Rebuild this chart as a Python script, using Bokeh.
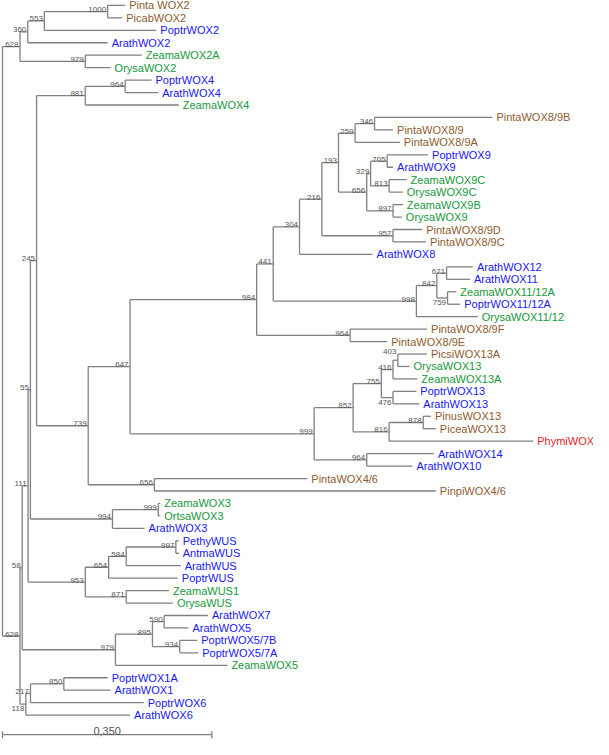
from bokeh.plotting import figure
from bokeh.models import Range1d
from bokeh.core.properties import value
from bokeh.embed import file_html
from bokeh.resources import INLINE

# ---------------- data ----------------
# leaves, top to bottom
leaf_names = ["Pinta WOX2", "PicabWOX2", "PoptrWOX2", "ArathWOX2", "ZeamaWOX2A", "OrysaWOX2",
              "PoptrWOX4", "ArathWOX4", "ZeamaWOX4",
              "PintaWOX8/9B", "PintaWOX8/9", "PintaWOX8/9A", "PoptrWOX9", "ArathWOX9",
              "ZeamaWOX9C", "OrysaWOX9C", "ZeamaWOX9B", "OrysaWOX9", "PintaWOX8/9D", "PintaWOX8/9C",
              "ArathWOX8", "ArathWOX12", "ArathWOX11", "ZeamaWOX11/12A", "PoptrWOX11/12A",
              "OrysaWOX11/12", "PintaWOX8/9F", "PintaWOX8/9E", "PicsiWOX13A", "OrysaWOX13",
              "ZeamaWOX13A", "PoptrWOX13", "ArathWOX13", "PinusWOX13", "PiceaWOX13", "PhymiWOX",
              "ArathWOX14", "ArathWOX10", "PintaWOX4/6", "PinpiWOX4/6",
              "ZeamaWOX3", "OrtsaWOX3", "ArathWOX3", "PethyWUS", "AntmaWUS", "ArathWUS", "PoptrWUS",
              "ZeamaWUS1", "OrysaWUS", "ArathWOX7", "ArathWOX5", "PoptrWOX5/7B", "PoptrWOX5/7A",
              "ZeamaWOX5", "PoptrWOX1A", "ArathWOX1", "PoptrWOX6", "ArathWOX6"]
leaf_parent = ["n1000", "n1000", "n553", "n360", "n979a", "n979a", "n964a", "n964a", "n881",
               "n346", "n346", "n259", "n705", "n705", "n813", "n813", "n897", "n897", "n957", "n957",
               "n304", "n671", "n671", "n759", "n759", "n998", "n964b", "n964b", "n403", "n403",
               "n416", "n476", "n476", "n878", "n878", "n816", "n964c", "n964c", "n656a", "n656a",
               "n999a", "n999a", "n994", "n997", "n997", "n584", "n654", "n871", "n871", "n590",
               "n590", "n934", "n934", "n979b", "n850", "n850", "n217", "n118"]
leaf_length = [0.0293, 0.0244, 0.1872, 0.1335, 0.0944, 0.0423, 0.0440, 0.0553, 0.1563, 0.1970,
               0.0309, 0.0749, 0.0684, 0.0098, 0.0293, 0.0228, 0.0163, 0.0147, 0.0488, 0.0553,
               0.1221, 0.0440, 0.0391, 0.0147, 0.0212, 0.1026, 0.1286, 0.0619, 0.0488, 0.0195,
               0.0407, 0.0391, 0.0440, 0.0130, 0.0212, 0.2409, 0.1123, 0.0765, 0.2556, 0.4705,
               0.0033, 0.0033, 0.0537, 0.0049, 0.0049, 0.0912, 0.1156, 0.0716, 0.0781, 0.0733,
               0.0407, 0.0293, 0.0309, 0.1872, 0.0733, 0.0781, 0.1893, 0.1742]
leaf_group = ["gymno", "gymno", "dicot", "dicot", "monocot", "monocot",
              "dicot", "dicot", "monocot",
              "gymno", "gymno", "gymno", "dicot", "dicot",
              "monocot", "monocot", "monocot", "monocot", "gymno", "gymno",
              "dicot", "dicot", "dicot", "monocot", "dicot",
              "monocot", "gymno", "gymno", "gymno", "monocot",
              "monocot", "dicot", "dicot", "gymno", "gymno", "other",
              "dicot", "dicot", "gymno", "gymno",
              "monocot", "monocot", "dicot", "dicot", "dicot", "dicot", "dicot",
              "monocot", "monocot", "dicot", "dicot", "dicot", "dicot",
              "monocot", "dicot", "dicot", "dicot", "dicot"]

# internal nodes
node_ids = ["root", "n628a", "n360", "n553", "n1000", "n979a", "n628b", "n58", "n111", "n55",
            "n245", "n881", "n964a", "n739", "n647", "n984", "n441", "n304", "n216", "n193",
            "n259", "n346", "n656b", "n329", "n705", "n813", "n897", "n957", "n998", "n842",
            "n671", "n759", "n964b", "n999b", "n852", "n755", "n416", "n403", "n476", "n816",
            "n878", "n964c", "n656a", "n994", "n999a", "n953", "n654", "n584", "n997", "n871",
            "n979b", "n895", "n590", "n934", "n118", "n217", "n850"]
node_parent = [None, "root", "n628a", "n360", "n553", "n628a", "root", "n628b", "n58", "n111",
               "n55", "n245", "n881", "n245", "n739", "n647", "n984", "n441", "n304", "n216",
               "n193", "n259", "n193", "n656b", "n329", "n329", "n656b", "n216", "n441", "n998",
               "n842", "n842", "n984", "n647", "n999b", "n852", "n755", "n416", "n755", "n852",
               "n816", "n999b", "n739", "n55", "n994", "n111", "n953", "n654", "n584", "n953",
               "n58", "n979b", "n895", "n895", "n628b", "n118", "n217"]
node_length = [0.0, 0.0293, 0.0130, 0.0277, 0.1058, 0.1091, 0.0293, 0.0037, 0.0098, 0.0039,
               0.0103, 0.0814, 0.0667, 0.0863, 0.0700, 0.2116, 0.0277, 0.0440, 0.0374, 0.0277,
               0.0277, 0.0326, 0.0472, 0.0065, 0.0277, 0.0309, 0.0440, 0.1188, 0.2393, 0.0342,
               0.0163, 0.0179, 0.1563, 0.3077, 0.0651, 0.0472, 0.0195, 0.0081, 0.0195, 0.0602,
               0.0570, 0.0879, 0.1107, 0.1372, 0.0765, 0.0956, 0.0391, 0.0293, 0.0830, 0.0684,
               0.1558, 0.0619, 0.0195, 0.0456, 0.0098, 0.0077, 0.0558]
node_support = ["", "628", "360", "553", "1000", "979", "628", "58", "111", "55",
                "245", "881", "964", "739", "647", "984", "441", "304", "216", "193",
                "259", "346", "656", "329", "705", "813", "897", "957", "998", "842",
                "671", "759", "964", "999", "852", "755", "416", "403", "476", "816",
                "878", "964", "656", "994", "999", "953", "654", "584", "997", "871",
                "979", "895", "590", "934", "118", "217", "850"]

scale_value = 0.35
scale_label = "0,350"

group_colors = {"gymno": "#8e5c2f", "dicot": "#1717f2", "monocot": "#17983d", "other": "#e1242b"}

# ---------------- layout from data ----------------
parent_of, length_of = {}, {}
for n, pa, ln in zip(node_ids, node_parent, node_length):
    parent_of[n], length_of[n] = pa, ln
for n, pa, ln in zip(leaf_names, leaf_parent, leaf_length):
    parent_of[n], length_of[n] = pa, ln

children = {n: [] for n in node_ids}
for n in node_ids[1:] + leaf_names:
    children[parent_of[n]].append(n)

depth_cache = {}
def depth(n):
    if n not in depth_cache:
        pa = parent_of[n]
        depth_cache[n] = 0.0 if pa is None else depth(pa) + length_of[n]
    return depth_cache[n]

y_cache = {name: float(i) for i, name in enumerate(leaf_names)}
def ypos(n):
    if n not in y_cache:
        ys = [ypos(c) for c in children[n]]
        y_cache[n] = (min(ys) + max(ys)) / 2.0
    return y_cache[n]

hx0, hx1, hy = [], [], []
for n in node_ids[1:] + leaf_names:
    hx0.append(depth(parent_of[n])); hx1.append(depth(n)); hy.append(ypos(n))
vx, vy0, vy1 = [], [], []
for n in node_ids:
    ys = [ypos(c) for c in children[n]]
    vx.append(depth(n)); vy0.append(min(ys)); vy1.append(max(ys))

p = figure(width=593, height=739, output_backend="svg", toolbar_location=None,
           x_range=Range1d(-0.0033, 0.988), y_range=Range1d(58.96, -0.394),
           x_axis_location=None, y_axis_location=None, min_border=0)
p.grid.visible = False
p.outline_line_color = None
p.background_fill_color = "white"
p.border_fill_color = "white"

line_col = "#808080"
p.segment(x0=hx0, y0=hy, x1=hx1, y1=hy, line_color=line_col, line_width=1.3)
p.segment(x0=vx, y0=vy0, x1=vx, y1=vy1, line_color=line_col, line_width=1.3)

# leaf labels
p.text(x=[depth(n) for n in leaf_names], y=[ypos(n) for n in leaf_names], text=leaf_names,
       text_color=[group_colors[g] for g in leaf_group], text_font=value("Liberation Sans"),
       text_font_size="11px", text_baseline="middle", x_offset=4)

# support labels
below = {"n759", "n476", "n118"}
raised = {"n403": -9}
groups = {"above": [], "below": []}
for n, s in zip(node_ids, node_support):
    if not s:
        continue
    if n in raised:
        continue
    groups["below" if n in below else "above"].append((n, s))
common = dict(text_color="#555555", text_font=value("Liberation Sans"), text_font_size="8px",
              text_align="right", x_offset=-1.5)
for key, base, dy in (("above", "alphabetic", -2), ("below", "top", 2)):
    items = groups[key]
    p.text(x=[depth(n) for n, _ in items], y=[ypos(n) for n, _ in items],
           text=[s for _, s in items], text_baseline=base, y_offset=dy, **common)
for n, dy in raised.items():
    s = node_support[node_ids.index(n)]
    p.text(x=[depth(n)], y=[ypos(n)], text=[s], text_baseline="alphabetic", y_offset=dy, **common)

# scale bar
bar_y = 58.57
p.segment(x0=[0], y0=[bar_y], x1=[scale_value], y1=[bar_y], line_color=line_col, line_width=1.3)
p.scatter(x=[0, scale_value], y=[bar_y, bar_y], marker="dash", angle=1.5708, size=7,
          line_color=line_col, line_width=1.3)
p.text(x=[scale_value / 2], y=[bar_y], text=[scale_label], text_align="center",
       text_baseline="bottom", y_offset=0, text_color="#555555",
       text_font=value("Liberation Sans"), text_font_size="11px")

open("out.html", "w").write(file_html(p, INLINE))
